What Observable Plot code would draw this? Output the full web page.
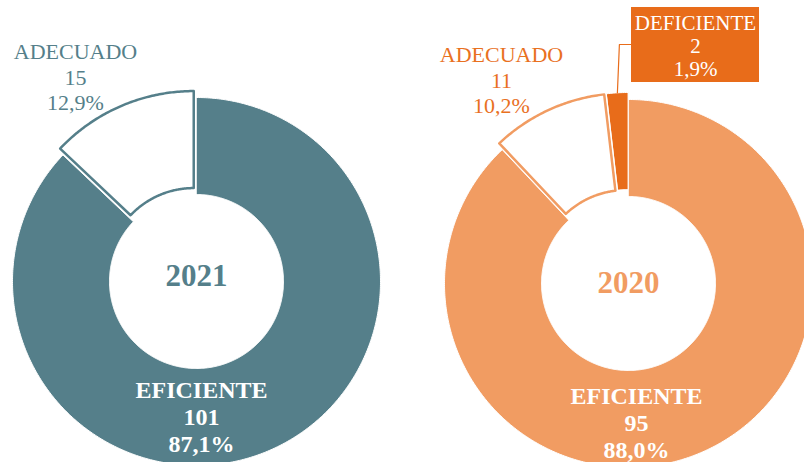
<!DOCTYPE html>
<html><head><meta charset="utf-8">
<script src="https://cdn.jsdelivr.net/npm/d3@7"></script>
<script src="https://cdn.jsdelivr.net/npm/@observablehq/plot@0.6"></script>
<style>html,body{margin:0;padding:0;overflow:hidden;background:#fff} svg{display:block}</style>
</head><body><div id="chart"></div>
<script>
// ---- data ----
const years = ["2021", "2020"];
const categories2021 = ["EFICIENTE", "ADECUADO"];
const values2021 = [101, 15];
const percent2021 = ["87,1%", "12,9%"];
const categories2020 = ["EFICIENTE", "ADECUADO", "DEFICIENTE"];
const values2020 = [95, 11, 2];
const percent2020 = ["88,0%", "10,2%", "1,9%"];

// ---- layout / style ----
const W = 804, H = 462;
const R_OUT = 184, R_IN = 87, EXPLODE = 7;
const teal = "#557f8a", orangeLight = "#f19c62", orangeDark = "#e86c1a";
const font = "'Liberation Serif', 'Times New Roman', serif";
const charts = {
  "2021": {cx: 196, cy: 281, cats: categories2021, vals: values2021, pcts: percent2021,
    main: teal, dark: teal, labelColor: teal, yearDy: -5.9,
    effLabel: {x: 201, y: 416}, adqLabel: {x: 75, y: 76}},
  "2020": {cx: 628, cy: 283, cats: categories2020, vals: values2020, pcts: percent2020,
    main: orangeLight, dark: orangeDark, labelColor: "#e9711f", yearDy: -0.9,
    effLabel: {x: 636, y: 421.5}, adqLabel: {x: 501, y: 79},
    defBox: {x1: 631, x2: 759, y1: 7, y2: 82}}
};

const marks = [];
const textMarks = [];
for (const year of years) {
  const c = charts[year];
  const rows = c.cats.map((cat, i) => ({cat, value: c.vals[i], pct: c.pcts[i]}));
  const arcs = d3.pie().sort(null).value(d => d.value).startAngle(0).endAngle(2 * Math.PI)(rows);
  for (const a of arcs) {
    const cat = a.data.cat;
    const off = cat === "EFICIENTE" ? 0 : EXPLODE;
    const mid = (a.startAngle + a.endAngle) / 2;
    const ox = c.cx + off * Math.sin(mid), oy = c.cy - off * Math.cos(mid);
    const n = Math.max(2, Math.ceil((a.endAngle - a.startAngle) / 0.01));
    const pts = [];
    for (let k = 0; k <= n; k++) {
      const t = a.startAngle + (a.endAngle - a.startAngle) * k / n;
      pts.push({x: ox + R_OUT * Math.sin(t), y: oy - R_OUT * Math.cos(t)});
    }
    for (let k = n; k >= 0; k--) {
      const t = a.startAngle + (a.endAngle - a.startAngle) * k / n;
      pts.push({x: ox + R_IN * Math.sin(t), y: oy - R_IN * Math.cos(t)});
    }
    let fill, stroke, sw;
    if (cat === "EFICIENTE") { fill = c.main; stroke = "white"; sw = 1; }
    else if (cat === "ADECUADO") { fill = "white"; stroke = c.main; sw = 2.5; }
    else { fill = c.dark; stroke = "white"; sw = 1; }
    marks.push(Plot.line(pts, {x: "x", y: "y", curve: "linear-closed", fill, stroke, strokeWidth: sw}));

    const txt = `${cat}\n${a.data.value}\n${a.data.pct}`;
    if (cat === "EFICIENTE") {
      textMarks.push(Plot.text([txt], {x: c.effLabel.x, y: c.effLabel.y, text: d => d, fill: "white",
        fontWeight: "bold", fontSize: 24, lineHeight: 1.13, fontFamily: font}));
    } else if (cat === "ADECUADO") {
      textMarks.push(Plot.text([txt], {x: c.adqLabel.x, y: c.adqLabel.y, text: d => d, fill: c.labelColor,
        fontSize: 22, lineHeight: 1.16, fontFamily: font}));
    } else {
      const b = c.defBox;
      // leader line from slice outer edge to label box
      const sx = ox + R_OUT * Math.sin(mid), sy = oy - R_OUT * Math.cos(mid);
      const ey = (b.y1 + b.y2) / 2 - 0.5;
      marks.push(Plot.line([{x: sx, y: sy}, {x: sx + 2, y: ey}, {x: b.x1, y: ey}],
        {x: "x", y: "y", stroke: c.dark, strokeWidth: 1.2}));
      marks.push(Plot.rect([b], {x1: "x1", x2: "x2", y1: "y1", y2: "y2", fill: c.dark}));
      textMarks.push(Plot.text([txt], {x: (b.x1 + b.x2) / 2, y: 45.3, text: d => d, fill: "white",
        fontSize: 21, lineHeight: 1.1, fontFamily: font}));
    }
  }
  textMarks.push(Plot.text([year], {x: c.cx, y: c.cy + c.yearDy, text: d => d, fill: c.main,
    fontWeight: "bold", fontSize: 31, fontFamily: font}));
}

const chart = Plot.plot({
  width: W, height: H, margin: 0,
  x: {domain: [0, W], range: [0, W], axis: null},
  y: {domain: [0, H], range: [0, H], axis: null},
  marks: [...marks, ...textMarks]
});
document.getElementById("chart").append(chart);
</script>
</body></html>
